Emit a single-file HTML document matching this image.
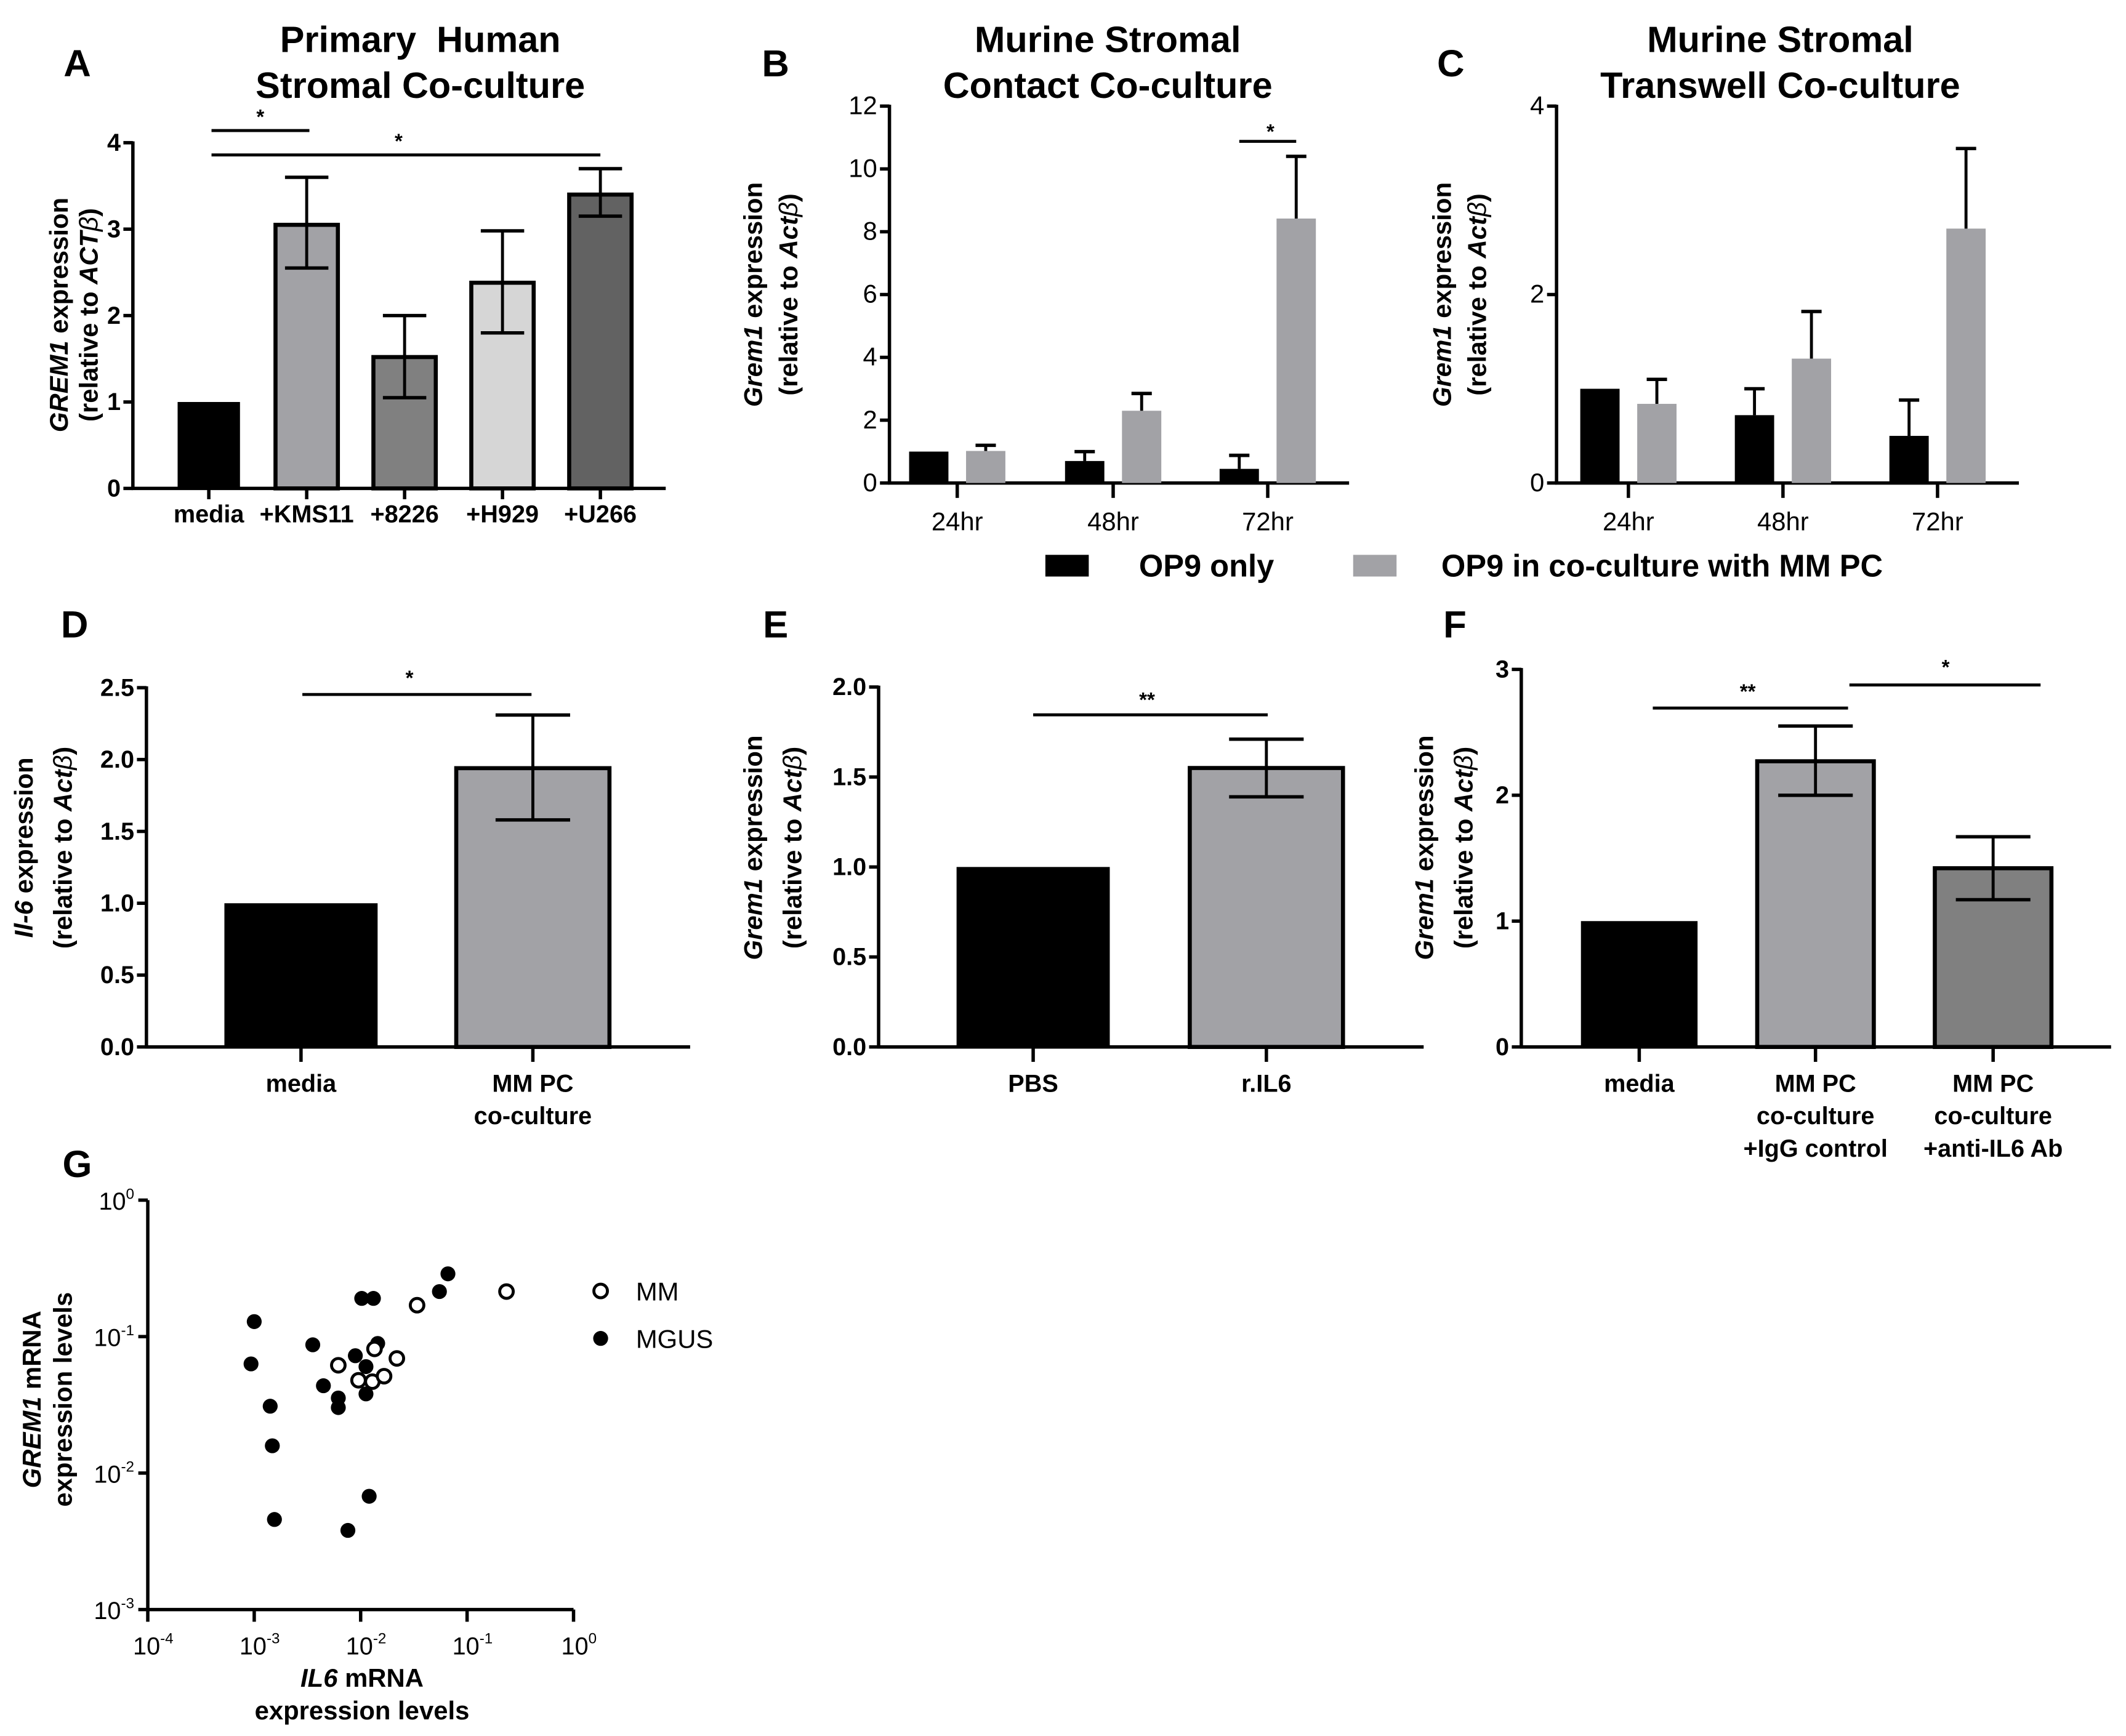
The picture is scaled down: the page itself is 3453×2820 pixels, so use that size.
<!DOCTYPE html>
<html><head><meta charset="utf-8">
<style>
html,body{margin:0;padding:0;background:#fff;}
svg{display:block;}
text{font-family:"Liberation Sans",Arial,sans-serif;fill:#000;}
</style></head>
<body>
<svg id="fig" width="3453" height="2820" viewBox="0 0 1568 1280" xmlns="http://www.w3.org/2000/svg">
<rect x="0" y="0" width="1568" height="1280" fill="#fff"/>
</svg>
<script>
// ---- Panel A data
const aCats = ["media","+KMS11","+8226","+H929","+U266"];
const aVals = [1, 3.05, 1.52, 2.38, 3.4];
const aLo = [null, 2.55, 1.05, 1.8, 3.15];
const aHi = [null, 3.6, 2.0, 2.98, 3.7];
const aTicks = [0,1,2,3,4];
// ---- Panel B data
const bGroups = ["24hr","48hr","72hr"];
const bOnly = [1, 0.7, 0.45];
const bOnlyHi = [null, 1.0, 0.88];
const bCo = [1.02, 2.3, 8.42];
const bCoHi = [1.2, 2.85, 10.4];
const bTicks = [0,2,4,6,8,10,12];
// ---- Panel C data
const cGroups = ["24hr","48hr","72hr"];
const cOnly = [1, 0.72, 0.5];
const cOnlyHi = [null, 1.0, 0.88];
const cCo = [0.84, 1.32, 2.7];
const cCoHi = [1.1, 1.82, 3.55];
const cTicks = [0,2,4];
// ---- Panel D data
const dVals = [1, 1.94];
const dLo = [null, 1.58];
const dHi = [null, 2.31];
const dTicks = [0,0.5,1.0,1.5,2.0,2.5];
// ---- Panel E data
const eVals = [1, 1.55];
const eLo = [null, 1.39];
const eHi = [null, 1.71];
const eTicks = [0,0.5,1.0,1.5,2.0];
// ---- Panel F data
const fVals = [1, 2.27, 1.42];
const fLo = [null, 2.0, 1.17];
const fHi = [null, 2.55, 1.67];
const fTicks = [0,1,2,3];
// ---- Panel G data (log10 values)
const gMGUSx = [-3.00,-3.03,-2.85,-2.83,-2.81,-2.45,-2.35,-2.21,-2.21,-2.05,-1.99,-1.88,-1.95,-1.95,-1.84,-1.92,-2.12,-1.26,-1.18];
const gMGUSy = [-0.89,-1.20,-1.51,-1.80,-2.34,-1.06,-1.36,-1.45,-1.52,-1.14,-0.72,-0.72,-1.22,-1.42,-1.05,-2.17,-2.42,-0.67,-0.54];
const gMMx = [-2.21,-2.02,-1.89,-1.78,-1.66,-1.87,-1.47,-0.63];
const gMMy = [-1.21,-1.32,-1.33,-1.29,-1.16,-1.09,-0.77,-0.67];
const gXTicks = [-4,-3,-2,-1,0];
const gYTicks = [0,-1,-2,-3];

const NS="http://www.w3.org/2000/svg";
const svg=document.getElementById('fig');
function el(tag,attrs,parent){const e=document.createElementNS(NS,tag);for(const k in attrs)e.setAttribute(k,attrs[k]);(parent||svg).appendChild(e);return e;}
function line(x1,y1,x2,y2,w,name,p){const e=el('line',{x1,y1,x2,y2,stroke:'#000','stroke-width':w||2.5},p);

return e;}
function txt(x,y,s,size,opts,name,p){const o=opts||{};const e=el('text',{x,y,'font-size':size,'text-anchor':o.anchor||'middle'},p);
if(o.bold!==false)e.setAttribute('font-weight','bold');
if(o.rot)e.setAttribute('transform','rotate(-90 '+x+' '+y+')');
e.innerHTML=s;

return e;}
function grp(name){const g=el('g',{});

return g;}
function rect(x,y,w,h,fill,stroke,name,p){const e=el('rect',{x,y,width:w,height:h,fill,stroke:stroke?'#000':'none','stroke-width':stroke?3:0},p);

return e;}
function errbar(x,yHi,yLo,cap,name,p,lowCap){const g=el('g',{},p);


line(x,yHi,x,yLo,2.2,'error-stem',g);line(x-cap/2,yHi,x+cap/2,yHi,2.5,'error-cap',g);
if(lowCap)line(x-cap/2,yLo,x+cap/2,yLo,2.5,'error-cap',g);}
function yAxis(g,x,y0,yTop,vmax,ticks,fmt,bold,size){const sc=v=>y0-(v/vmax)*(y0-yTop);
line(x,y0,x,yTop-1,2.5,'y-axis',g);
ticks.forEach(t=>{const y=sc(t);line(x-7,y,x,y,2.5,'y-tick',g);txt(x-9,y+6,fmt(t),size||17,{anchor:'end',bold:bold},'y-tick-label',g);});
return sc;}

// ===== Panel A =====
(function(){const g=grp('panel-a');
txt(57,56,'A',28,{},'panel-letter-a',g);
txt(310,38,'Primary&#160; Human',27,{},'chart-title-a-line1',g);
txt(310,72,'Stromal Co-culture',27,{},'chart-title-a-line2',g);
const X0=98,Y0=360,YT=105;
const sc=yAxis(g,X0,Y0,YT,4,aTicks,t=>String(t),true,18);
line(X0-1,Y0,491,Y0,2.5,'x-axis',g);
const cx=i=>154+i*72.2;
const fills=['#000','#a2a2a6','#808080','#d6d6d6','#626262'];
aCats.forEach((c,i)=>{const x=cx(i);
rect(x-23,sc(aVals[i]),46,Y0-sc(aVals[i]),fills[i],i>0,'bar-'+c.replace('+','').toLowerCase(),g);
if(aHi[i]!==null)errbar(x,sc(aHi[i]),sc(aLo[i]),32,'error-bar-'+i,g,true);
line(x,Y0,x,Y0+8,2.5,'x-tick',g);
txt(x,385,c,18,{},'x-tick-label',g);});
line(cx(0)+2,96,cx(1)+2,96,2.2,'significance-line',g);txt(192,91,'*',15,{},'significance-star',g);
line(cx(0)+2,114,cx(4),114,2.2,'significance-line',g);txt(294,109,'*',15,{},'significance-star',g);
txt(50,232,'<tspan font-style="italic">GREM1</tspan> expression',19,{rot:true},'y-axis-title-a',g);
txt(72,232,'(relative to <tspan font-style="italic">ACT</tspan><tspan font-style="italic" font-weight="normal">β</tspan>)',19,{rot:true},'y-axis-title-a-line2',g);
})();

// ===== Panels B & C =====
function grouped(name,letter,lx,title1,title2,tcx,X0,centers,vmax,ticks,only,onlyHi,co,coHi,ylx){
const g=grp(name);
txt(lx,56,letter,28,{},'panel-letter-'+letter.toLowerCase(),g);
txt(tcx,38,title1,27,{},'chart-title-line1',g);
txt(tcx,72,title2,27,{},'chart-title-line2',g);
const Y0=356,YT=78;
const sc=yAxis(g,X0,Y0,YT,vmax,ticks,t=>String(t),false,19);
line(X0-1,Y0,centers[2]+60,Y0,2.5,'x-axis',g);
centers.forEach((c,i)=>{
const xb=c-21,xg=c+21;
rect(xb-14.5,sc(only[i]),29,Y0-sc(only[i]),'#000',false,'bar-op9-only-'+i,g);
if(onlyHi[i]!==null)errbar(xb,sc(onlyHi[i]),sc(only[i]),15,'error-bar-op9-only-'+i,g,false);
rect(xg-14.5,sc(co[i]),29,Y0-sc(co[i]),'#a2a2a6',false,'bar-op9-coculture-'+i,g);
errbar(xg,sc(coHi[i]),sc(co[i]),15,'error-bar-coculture-'+i,g,false);
line(c,Y0,c,Y0+11,2.5,'x-tick',g);
txt(c,391,bGroups[i],19,{bold:false},'x-tick-label',g);});
txt(ylx,217,'<tspan font-style="italic">Grem1</tspan> expression',19,{rot:true},'y-axis-title',g);
txt(ylx+26,217,'(relative to <tspan font-style="italic">Act</tspan><tspan font-style="italic" font-weight="normal">β</tspan>)',19,{rot:true},'y-axis-title-line2',g);
return {g,sc};}
const B=grouped('panel-b','B',572,'Murine Stromal','Contact Co-culture',817,656,[706,821,935],12,bTicks,bOnly,bOnlyHi,bCo,bCoHi,562);
line(914,104,956,104,2.2,'significance-line',B.g);txt(937,102,'*',15,{},'significance-star',B.g);
grouped('panel-c','C',1070,'Murine Stromal','Transwell Co-culture',1313,1148,[1201,1315,1429],4,cTicks,cOnly,cOnlyHi,cCo,cCoHi,1070);

// Legend
(function(){const g=grp('legend-op9');
rect(771,409,32,16,'#000',false,'legend-swatch-op9-only',g);
txt(840,425,'OP9 only',23,{anchor:'start'},'legend-label-op9-only',g);
rect(998,409,32,16,'#a2a2a6',false,'legend-swatch-coculture',g);
txt(1063,425,'OP9 in co-culture with MM PC',23,{anchor:'start'},'legend-label-coculture',g);})();

// ===== Simple bar panels D,E,F =====
function simple(name,letter,lx,X0,xEnd,YT,vmax,ticks,fmt,centers,w,vals,lo,hi,fills,labels,ylab1,ylab2,ylx){
const g=grp(name);
txt(lx,470,letter,28,{},'panel-letter-'+letter.toLowerCase(),g);
const Y0=772;
const sc=yAxis(g,X0,Y0,YT,vmax,ticks,fmt,true,18);
line(X0-1,Y0,xEnd,Y0,2.5,'x-axis',g);
centers.forEach((c,i)=>{
rect(c-w/2,sc(vals[i]),w,Y0-sc(vals[i]),fills[i],i>0,'bar-'+i,g);
if(hi[i]!==null)errbar(c,sc(hi[i]),sc(lo[i]),55,'error-bar-'+i,g,true);
line(c,Y0,c,Y0+11,2.5,'x-tick',g);
labels[i].forEach((s,k)=>txt(c,805+k*24,s,18,{},'x-tick-label',g));});
txt(ylx,625,ylab1,19,{rot:true},'y-axis-title',g);
txt(ylx+29,625,ylab2,19,{rot:true},'y-axis-title-line2',g);
return {g,sc};}
const actb='(relative to <tspan font-style="italic">Act</tspan><tspan font-style="italic" font-weight="normal">β</tspan>)';
const D=simple('panel-d','D',55,108,509,507,2.5,dTicks,t=>t.toFixed(1),[222,393],113,dVals,dLo,dHi,['#000','#a2a2a6'],[['media'],['MM PC','co-culture']],'<tspan font-style="italic">Il-6</tspan> expression',actb,24);
line(223,512,392,512,2.2,'significance-line',D.g);txt(302,505,'*',15,{},'significance-star',D.g);
const E=simple('panel-e','E',572,648,1050,506.5,2.0,eTicks,t=>t.toFixed(1),[762,934],113,eVals,eLo,eHi,['#000','#a2a2a6'],[['PBS'],['r.IL6']],'<tspan font-style="italic">Grem1</tspan> expression',actb,562);
line(762,527,935,527,2.2,'significance-line',E.g);txt(846,521,'**',15,{},'significance-star',E.g);
const F=simple('panel-f','F',1073,1122,1557,493.5,3,fTicks,t=>String(t),[1209,1339,1470],86,fVals,fLo,fHi,['#000','#a2a2a6','#808080'],[['media'],['MM PC','co-culture','+IgG control'],['MM PC','co-culture','+anti-IL6 Ab']],'<tspan font-style="italic">Grem1</tspan> expression',actb,1057);
line(1219,522,1363,522,2.2,'significance-line',F.g);txt(1289,515,'**',15,{},'significance-star',F.g);
line(1364,505,1505,505,2.2,'significance-line',F.g);txt(1435,497,'*',15,{},'significance-star',F.g);

// ===== Panel G =====
(function(){const g=grp('panel-g');
txt(57,868,'G',28,{},'panel-letter-g',g);
const X0=109,X1=423,Y0=1187,YT=885;
const sx=v=>X0+(v+4)/4*(X1-X0);
const sy=v=>Y0-(v+3)/3*(Y0-YT);
line(X0,Y0,X0,YT,2.5,'y-axis',g);
line(X0-1,Y0,X1,Y0,2.5,'x-axis',g);
gYTicks.forEach(t=>{const y=sy(t);line(X0-7,y,X0,y,2.5,'y-tick',g);
txt(X0-10,y+7,'10<tspan font-size="11" dy="-8">'+t+'</tspan>',18,{anchor:'end',bold:false},'y-tick-label',g);});
gXTicks.forEach(t=>{const x=sx(t);line(x,Y0,x,Y0+9,2.5,'x-tick',g);
txt(x+4,1220,'10<tspan font-size="11" dy="-8">'+t+'</tspan>',18,{bold:false},'x-tick-label',g);});
gMGUSx.forEach((v,i)=>{const c=el('circle',{cx:sx(v),cy:sy(gMGUSy[i]),r:5.5,fill:'#000'},g);

});
gMMx.forEach((v,i)=>{const c=el('circle',{cx:sx(v),cy:sy(gMMy[i]),r:5,fill:'#fff',stroke:'#000','stroke-width':2.2},g);

});
const l1=el('circle',{cx:443,cy:952,r:5,fill:'#fff',stroke:'#000','stroke-width':2.2},g);


txt(469,959,'MM',19,{anchor:'start',bold:false},'legend-label-mm',g);
const l2=el('circle',{cx:443,cy:987,r:5.5,fill:'#000'},g);


txt(469,994,'MGUS',19,{anchor:'start',bold:false},'legend-label-mgus',g);
txt(30,1032,'<tspan font-style="italic">GREM1</tspan> mRNA',19,{rot:true},'y-axis-title-g',g);
txt(53,1032,'expression levels',19,{rot:true},'y-axis-title-g-line2',g);
txt(267,1244,'<tspan font-style="italic">IL6</tspan> mRNA',19,{},'x-axis-title-g',g);
txt(267,1268,'expression levels',19,{},'x-axis-title-g-line2',g);
})();
</script>
</body></html>
